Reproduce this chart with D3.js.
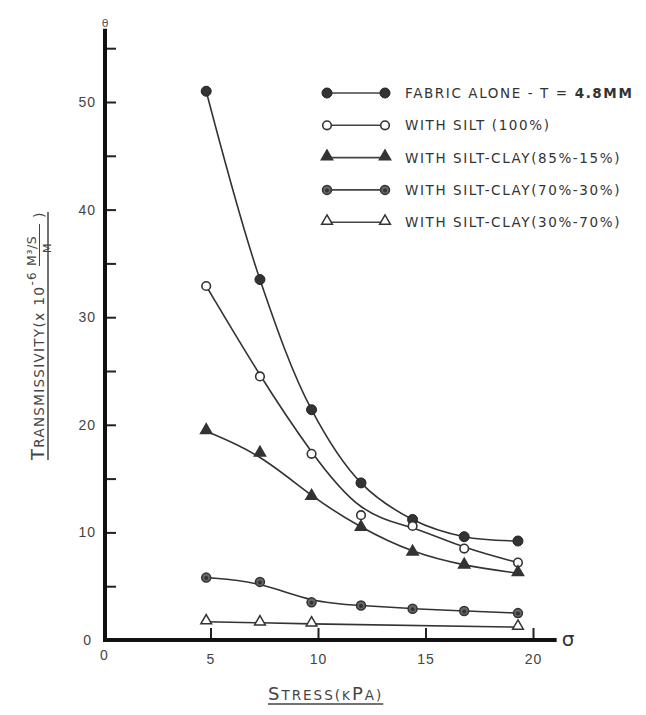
<!DOCTYPE html>
<html lang="en">
<head>
<meta charset="UTF-8">
<title>Transmissivity vs Stress</title>
<script src="https://d3js.org/d3.v7.min.js"></script>
<style>
    body { margin: 0; background: #fff; }
    svg { display: block; font-family: "DejaVu Sans", sans-serif; }
    .tick text { fill: #444; font-size: 14px; letter-spacing: 1px; }
    .tick line { stroke: #222; stroke-width: 2px; }
    .series-line { fill: none; stroke: #333; stroke-width: 1.6px; }
    .legend text { fill: #333; font-size: 13.5px; letter-spacing: 1.6px; }
</style>
</head>
<body>
<svg id="chart" width="646" height="715"></svg>
<script>
// data
const stress = [4.8, 7.3, 9.7, 12.0, 14.4, 16.8, 19.3];
const fabricAlone = [51.0, 33.5, 21.4, 14.6, 11.2, 9.6, 9.2];
const withSilt = [32.9, 24.5, 17.3, 11.6, 10.6, 8.5, 7.2];
const siltClay85 = [19.4, 17.3, 13.3, 10.4, 8.1, 6.9, 6.2];
const siltClay70 = [5.8, 5.4, 3.5, 3.2, 2.9, 2.7, 2.5];
const stress30 = [4.8, 7.3, 9.7, 19.3];
const siltClay30 = [1.7, 1.6, 1.5, 1.2];

const xTicks = [0, 5, 10, 15, 20];
const yTicks = [0, 5, 10, 15, 20, 25, 30, 35, 40, 45, 50, 55];
const legendLabels = [
    "FABRIC ALONE - T = 4.8MM",
    "WITH SILT (100%)",
    "WITH SILT-CLAY(85%-15%)",
    "WITH SILT-CLAY(70%-30%)",
    "WITH SILT-CLAY(30%-70%)"
];
const markerKinds = ["filledCircle", "openCircle", "filledTriangle", "greyCircle", "openTriangle"];

const svg = d3.select('#chart');

const x = d3.scaleLinear().domain([0, 20]).range([103, 533]);
const y = d3.scaleLinear().domain([0, 50]).range([640, 102]);

// hand-fitted curves: the top one goes through the points, the others are smoothed
const seriesList = [
    { xs: stress, ys: fabricAlone, marker: markerKinds[0], curve: d3.curveCatmullRom },
    { xs: stress, ys: withSilt, marker: markerKinds[1], curve: d3.curveBasis },
    { xs: stress, ys: siltClay85, marker: markerKinds[2], curve: d3.curveBasis },
    { xs: stress, ys: siltClay70, marker: markerKinds[3], curve: d3.curveBasis },
    { xs: stress30, ys: siltClay30, marker: markerKinds[4], curve: d3.curveLinear }
];

// axes (ticks point inward like the hand drawing)
const xAxis = d3.axisBottom(x).tickValues(xTicks).tickSize(-12).tickPadding(14)
    .tickFormat(d3.format('d'));
const gx = svg.append('g').attr('transform', `translate(0,${y(0)})`).call(xAxis);
gx.select('.domain').remove();
gx.selectAll('.tick').filter(d => d === 0).select('line').remove();
gx.selectAll('.tick').filter(d => d === 0).select('text').attr('dy', '0.4em').attr('x', 1);

const yAxis = d3.axisLeft(y).tickValues(yTicks).tickSize(-11).tickPadding(9)
    .tickFormat(d => d % 10 === 0 ? d : '');
const gy = svg.append('g').attr('transform', `translate(${x(0) + 2},0)`).call(yAxis);
gy.select('.domain').remove();
gy.selectAll('.tick').filter(d => d === 0).select('line').remove();
gy.selectAll('.tick').filter(d => d === 0).select('text').attr('x', -13);

// thick axis lines
svg.append('line')
    .attr('x1', x(0) + 2).attr('y1', y(0) + 2)
    .attr('x2', x(0) + 2).attr('y2', y(56.8))
    .attr('stroke', '#111').attr('stroke-width', 4);
svg.append('line')
    .attr('x1', x(0)).attr('y1', y(0))
    .attr('x2', x(21.1)).attr('y2', y(0))
    .attr('stroke', '#111').attr('stroke-width', 4);

svg.append('text').attr('x', x(21.1) + 5).attr('y', y(0) + 6)
    .attr('font-size', 20).attr('fill', '#333').text('σ');
svg.append('text').attr('x', x(0) + 2).attr('y', y(56.8) - 2)
    .attr('text-anchor', 'middle').attr('font-size', 11).attr('fill', '#555').text('θ');

// curves
const lineGen = d3.line().x(d => x(d[0])).y(d => y(d[1]));
seriesList.forEach(s => {
    const pts = s.xs.map((v, i) => [v, s.ys[i]]);
    svg.append('path').attr('class', 'series-line')
        .attr('d', lineGen.curve(s.curve)(pts));
});

function drawMarker(g, kind, cx, cy) {
    if (kind === 'filledCircle') {
        g.append('circle').attr('cx', cx).attr('cy', cy).attr('r', 5)
            .attr('fill', '#333').attr('stroke', '#222').attr('stroke-width', 1);
    } else if (kind === 'openCircle') {
        g.append('circle').attr('cx', cx).attr('cy', cy).attr('r', 4.3)
            .attr('fill', '#fff').attr('stroke', '#333').attr('stroke-width', 1.6);
    } else if (kind === 'greyCircle') {
        g.append('circle').attr('cx', cx).attr('cy', cy).attr('r', 4.5)
            .attr('fill', '#666').attr('stroke', '#333').attr('stroke-width', 1.5);
        g.append('circle').attr('cx', cx).attr('cy', cy + 0.5).attr('r', 2)
            .attr('fill', '#333');
    } else {
        const filled = kind === 'filledTriangle';
        g.append('path')
            .attr('d', d3.symbol().type(d3.symbolTriangle).size(filled ? 55 : 50)())
            .attr('transform', `translate(${cx},${cy - 1})`)
            .attr('fill', filled ? '#333' : '#fff')
            .attr('stroke', '#333').attr('stroke-width', 1.5);
    }
}

// markers
seriesList.forEach(s => {
    const g = svg.append('g');
    s.xs.forEach((v, i) => drawMarker(g, s.marker, x(v), y(s.ys[i])));
});

// legend
const legend = svg.append('g').attr('class', 'legend');
legendLabels.forEach((lab, i) => {
    const ly = 93 + i * 32.3;
    legend.append('line').attr('x1', 327).attr('x2', 385).attr('y1', ly).attr('y2', ly)
        .attr('stroke', '#444').attr('stroke-width', i === 0 ? 1.3 : 1.6);
    drawMarker(legend, markerKinds[i], 327, ly);
    drawMarker(legend, markerKinds[i], 385, ly);
    const t = legend.append('text').attr('x', 405).attr('y', ly + 5);
    const m = lab.match(/^(.*= )(.*)$/);
    if (m) {
        t.append('tspan').text(m[1]);
        t.append('tspan').attr('font-weight', 'bold').text(m[2]);
    } else {
        t.text(lab);
    }
});

// y axis title, rotated
const yt = svg.append('g').attr('transform', 'translate(44,460) rotate(-90)')
    .attr('fill', '#444');
const ytext = yt.append('text').attr('x', 0).attr('y', 0).attr('letter-spacing', 1.3);
ytext.append('tspan').attr('font-size', 18).text('T');
ytext.append('tspan').attr('font-size', 13.5).text('RANSMISSIVITY');
ytext.append('tspan').attr('font-size', 14).attr('letter-spacing', 1.2).text('(x 10');
ytext.append('tspan').attr('font-size', 12).attr('dy', -8).text('-6');
const mainLen = ytext.node().getComputedTextLength();
const fx = mainLen + 5;
yt.append('text').attr('x', fx).attr('y', -8).attr('font-size', 12.5)
    .attr('letter-spacing', 0.6).text('M³/S');
yt.append('line').attr('x1', fx).attr('x2', fx + 42).attr('y1', -4.5).attr('y2', -4.5)
    .attr('stroke', '#444').attr('stroke-width', 1);
yt.append('text').attr('x', fx + 13).attr('y', 7).attr('font-size', 11).text('M');
yt.append('text').attr('x', fx + 48).attr('y', 0).attr('font-size', 14).text(')');
yt.append('line').attr('x1', 0).attr('x2', fx + 54).attr('y1', 4).attr('y2', 4)
    .attr('stroke', '#444').attr('stroke-width', 1.5);

// x axis title
const xt = svg.append('text').attr('x', 268).attr('y', 700).attr('fill', '#444')
    .attr('letter-spacing', 2);
xt.append('tspan').attr('font-size', 18).text('S');
xt.append('tspan').attr('font-size', 13.5).text('TRESS(');
xt.append('tspan').attr('font-size', 12).text('K');
xt.append('tspan').attr('font-size', 18).text('P');
xt.append('tspan').attr('font-size', 13.5).text('A)');
const xtLen = xt.node().getComputedTextLength();
svg.append('line').attr('x1', 268).attr('x2', 268 + xtLen).attr('y1', 704).attr('y2', 704)
    .attr('stroke', '#444').attr('stroke-width', 1.5);
</script>
</body>
</html>
